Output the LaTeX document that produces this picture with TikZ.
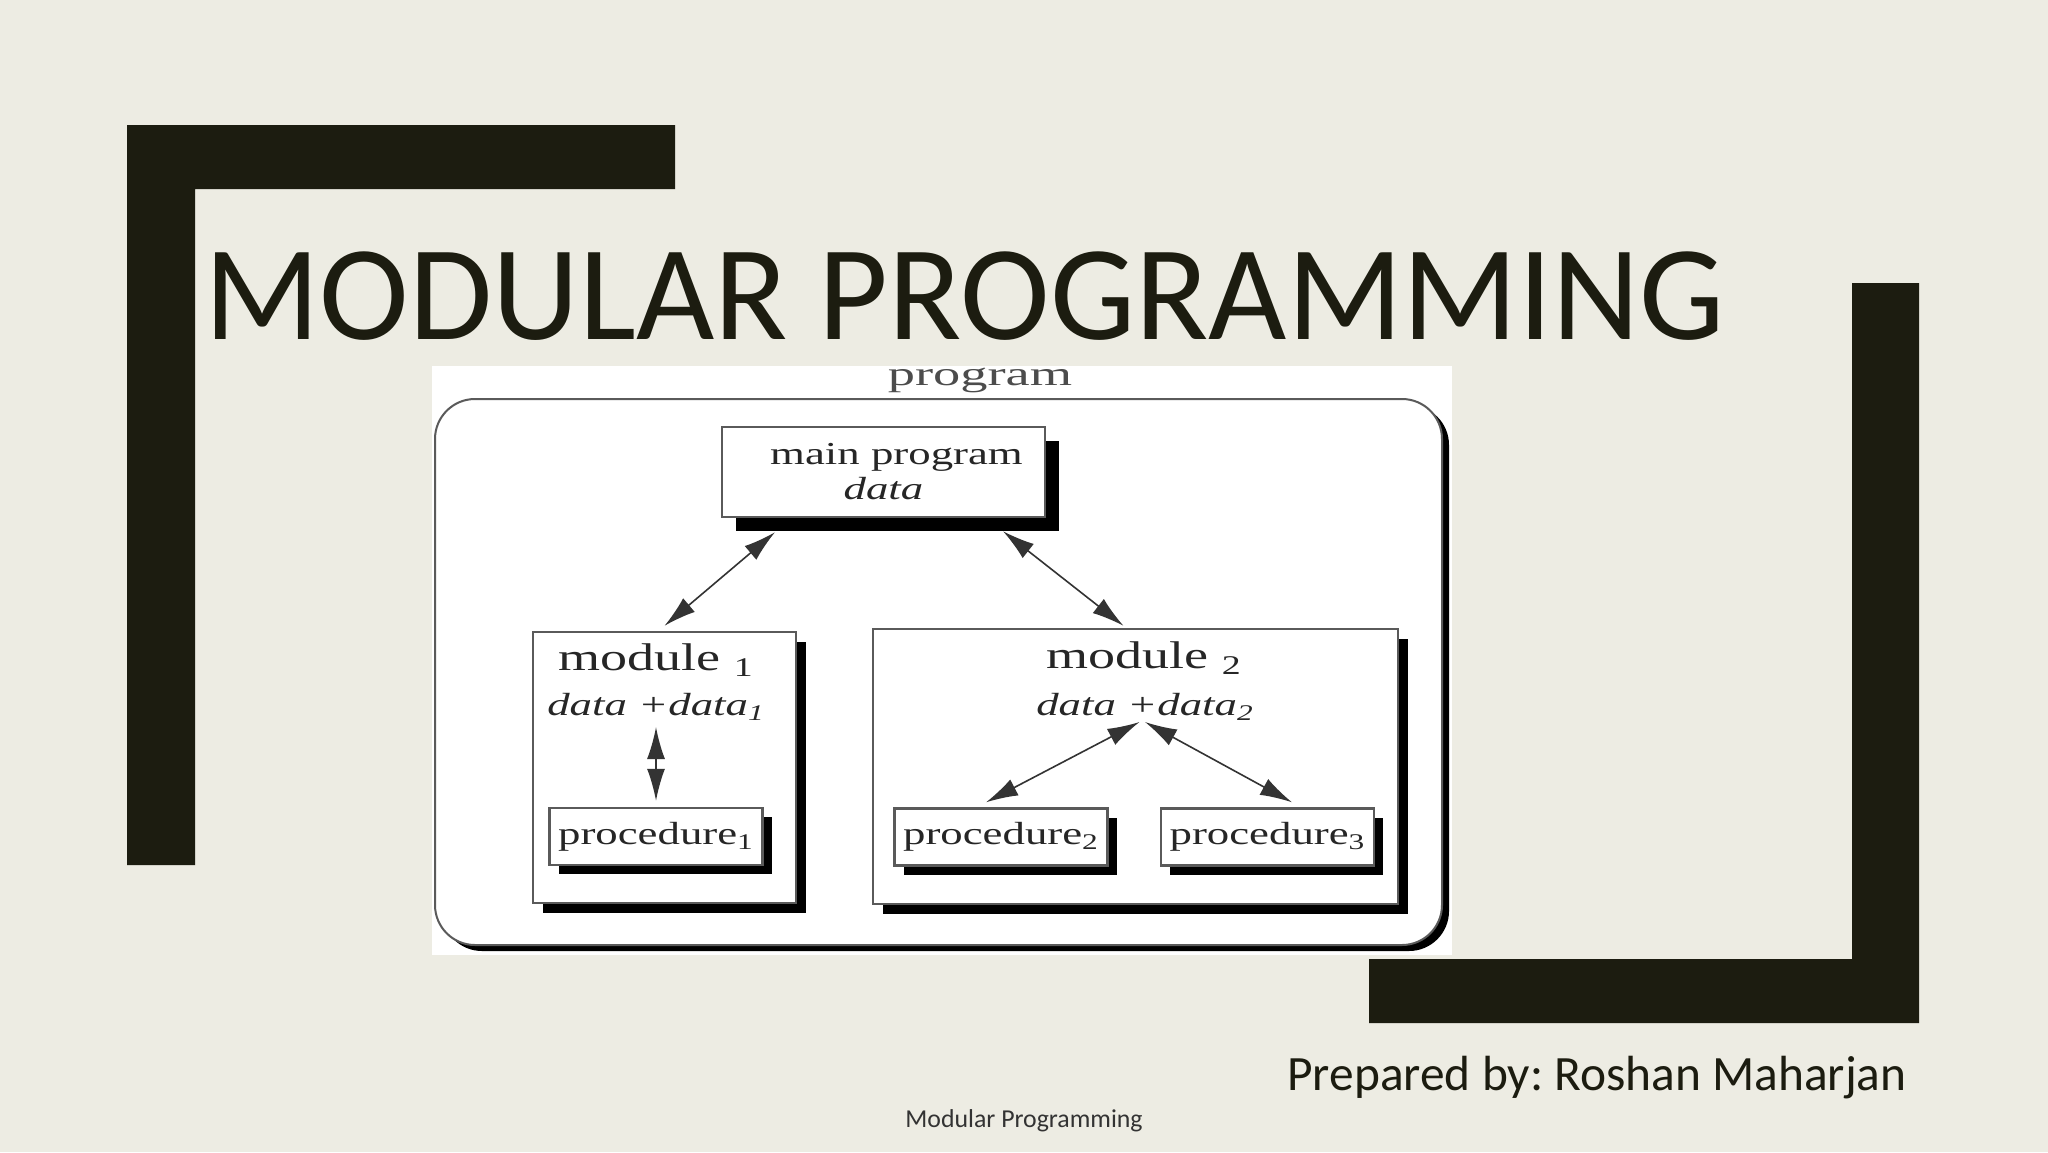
\documentclass[tikz,border=0pt]{standalone}
\usepackage{fontspec}
\setmainfont{Carlito}
\newfontfamily\diagfont[FakeStretch=1.4]{Liberation Serif}
\newfontfamily\framefont[FakeStretch=1.6]{Liberation Serif}
\usetikzlibrary{positioning,arrows.meta,calc,shadows,fit}
\definecolor{slidebg}{HTML}{EDECE3}
\definecolor{slideink}{HTML}{1C1C10}
\definecolor{boxline}{HTML}{5A5A5A}
\frenchspacing

\begin{document}
\begin{tikzpicture}[x=0.5pt, y=-0.5pt, >={Latex[length=16pt,width=9pt]},
   boxshadow/.style={drop shadow={shadow xshift=#1, shadow yshift=-#1, opacity=1, fill=black}},
   diag/.style={font={\diagfont\fontsize{16pt}{17.5pt}\selectfont}, text=black!85},
   modname/.style={font={\diagfont\fontsize{19.3pt}{21pt}\selectfont}, text=black!85, inner sep=0pt},
   bx/.style={draw=boxline, line width=1.2pt, fill=white, inner sep=0pt},
   proc/.style={bx, diag, boxshadow=4.5pt, minimum width=106.5pt, minimum height=28.5pt},
   link/.style={<->, line width=0.8pt, black!80}]
  % slide
  \fill[slidebg] (0,0) rectangle (2048,1152);
  \useasboundingbox (0,0) rectangle (2048,1152);
  \fill[slideink] (127,125) -- (675,125) -- (675,189) -- (195,189) -- (195,865) -- (127,865) -- cycle;
  \fill[slideink] (1852,283) -- (1919,283) -- (1919,1023) -- (1369,1023) -- (1369,959) -- (1852,959) -- cycle;
  \node[anchor=base west, inner sep=0pt, text=slideink, font=\fontsize{67.6pt}{70pt}\selectfont] (title) at (204,339) {MODULAR PROGRAMMING};
  % diagram
  \fill[white] (432,366) rectangle (1452,955);
  \node[draw=boxline, line width=1pt, fill=white, rounded corners=20pt, inner sep=0pt,
        drop shadow={shadow xshift=3.5pt, shadow yshift=-3pt, opacity=1, fill=black},
        fit={(435,399) (1442,945)}] (frame) {};
  \node[anchor=base, inner sep=0pt, text=black!70, font={\framefont\fontsize{17pt}{19pt}\selectfont}] (progname) at (980,385) {program};
  \node[bx, diag, boxshadow=7pt, align=center, minimum width=161.5pt, minimum height=45pt] (main) at (883.5,472) {\hspace*{13pt}main program\\\textit{data}};
  \node[bx, boxshadow=5pt, minimum width=131.5pt, minimum height=135.5pt] (mod1) at (664.5,767.5) {};
  \node[bx, boxshadow=5pt, minimum width=262.5pt, minimum height=137.5pt] (mod2) at (1135.5,766.5) {};
  \node[modname, anchor=base] (mod1name) at (656,670) {module \textsubscript{1}};
  \node[modname, anchor=base] (mod2name) at (1144,668) {module \textsubscript{2}};
  \node[diag, anchor=base, inner sep=0pt] (mod1data) at (656,715) {\textit{data +data\textsubscript{1}}};
  \node[diag, anchor=base, inner sep=0pt] (mod2data) at (1145,715) {\textit{data +data\textsubscript{2}}};
  \node[proc] (proc1) at (656,836.5) {procedure\textsubscript{1}};
  \node[proc] (proc2) at (1001,837) {procedure\textsubscript{2}};
  \node[proc] (proc3) at (1267.5,837) {procedure\textsubscript{3}};
  \draw[link] ([xshift=-54.25pt,yshift=-7pt]main.south) -- ([yshift=2.5pt]mod1.north);
  \draw[link] ([xshift=59.75pt,yshift=-6.5pt]main.south) -- ([xshift=-6pt,yshift=1pt]mod2.north);
  \draw[link] ([yshift=-6pt]mod1data.base) -- ([yshift=3pt]proc1.north);
  \draw[link] ([xshift=-2.75pt,yshift=-3.5pt]mod2data.base) -- ([xshift=-7.5pt,yshift=2.5pt]proc2.north);
  \draw[link] ([yshift=-3.5pt]mod2data.base) -- ([xshift=12.25pt,yshift=2.5pt]proc3.north);
  % footer
  \node[anchor=base west, inner sep=0pt, text=slideink, font=\fontsize{24.7pt}{28pt}\selectfont] (author) at (1287,1090) {Prepared by: Roshan Maharjan};
  \node[anchor=base, inner sep=0pt, text=black!80, font=\fontsize{12.9pt}{15pt}\selectfont] (footer) at (1024,1127) {Modular Programming};
\end{tikzpicture}
\end{document}
